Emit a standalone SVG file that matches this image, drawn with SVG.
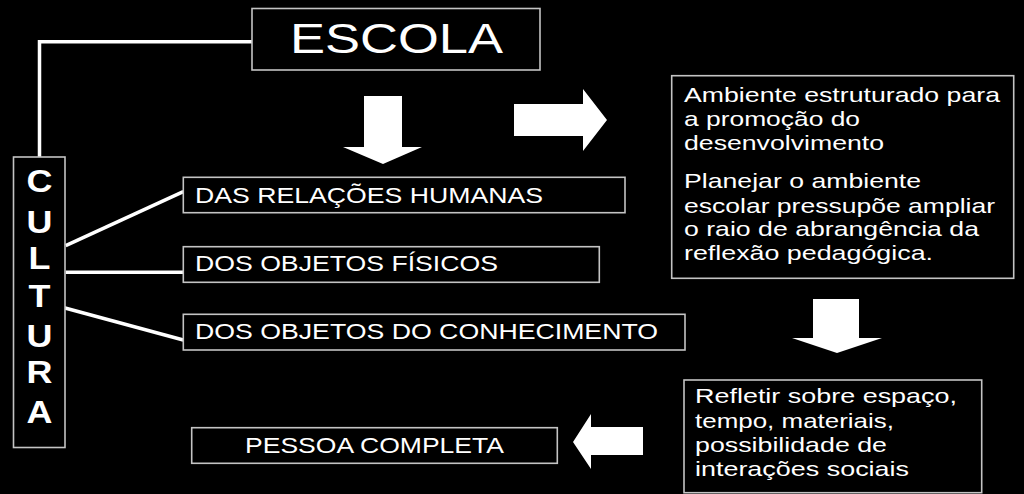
<svg xmlns="http://www.w3.org/2000/svg" width="1024" height="494" viewBox="0 0 1024 494">
<style>
.box{fill:#000;stroke:#c4c4c4;stroke-width:1.6}
.t{fill:#fff;font-family:"Liberation Sans",Arial,sans-serif}
.lbl{font-size:22px}
.par{font-size:21px}
.cult{font-size:31.5px;font-weight:bold;text-anchor:middle}
.con{stroke:#fff;stroke-width:3.5;fill:none}
.arr{fill:#fff}
</style>
<rect width="1024" height="494" fill="#000"/>
<g id="connectors">
<polyline class="con" points="260,41.7 39.5,41.7 39.5,157" stroke-width="3"/>
<line class="con" x1="65.7" y1="245.7" x2="183.3" y2="191.7"/>
<line class="con" x1="65.7" y1="272.3" x2="183.3" y2="272.3"/>
<line class="con" x1="56.7" y1="305.7" x2="183.3" y2="340"/>
<polygon class="arr" points="364,96 402,96 402,147 422,147 383,164 343,147 364,147"/>
<polygon class="arr" points="514,104 583,104 583,89 607,120 583,151 583,136 514,136"/>
<polygon class="arr" points="813,299 859,299 859,338 882,338 837,353 792,338 813,338"/>
<polygon class="arr" points="643,427 591,427 591,414 573,442 591,469 591,455 643,455"/>
</g>
<g id="escola">
<rect class="box" x="252" y="8.5" width="288" height="61.5"/>
<text class="t" x="290" y="52.7" font-size="42" textLength="213" lengthAdjust="spacingAndGlyphs">ESCOLA</text>
</g>
<g id="cultura">
<rect class="box" x="13.5" y="157" width="51.5" height="290.5"/>
<g transform="translate(39.5,0) scale(1.14,1)">
<text class="t cult" x="0" y="192.5">C</text>
<text class="t cult" x="0" y="232.7">U</text>
<text class="t cult" x="0" y="269.3">L</text>
<text class="t cult" x="0" y="307.3">T</text>
<text class="t cult" x="0" y="346.7">U</text>
<text class="t cult" x="0" y="383.3">R</text>
<text class="t cult" x="0" y="423.3">A</text>
</g>
</g>
<g id="relacoes">
<rect class="box" x="183.3" y="177.3" width="441.7" height="35.4"/>
<text class="t lbl" x="195" y="202.7" textLength="348" lengthAdjust="spacingAndGlyphs">DAS RELAÇÕES HUMANAS</text>
</g>
<g id="fisicos">
<rect class="box" x="183.3" y="246.7" width="416" height="35.6"/>
<text class="t lbl" x="195" y="271" textLength="303" lengthAdjust="spacingAndGlyphs">DOS OBJETOS FÍSICOS</text>
</g>
<g id="conhecimento">
<rect class="box" x="183.3" y="314.3" width="501.7" height="35.7"/>
<text class="t lbl" x="195" y="338.5" textLength="463" lengthAdjust="spacingAndGlyphs">DOS OBJETOS DO CONHECIMENTO</text>
</g>
<g id="pessoa">
<rect class="box" x="191.7" y="427.7" width="365.6" height="35.6"/>
<text class="t lbl" x="245" y="452.7" textLength="259" lengthAdjust="spacingAndGlyphs">PESSOA COMPLETA</text>
</g>
<g id="ambiente">
<rect class="box" x="671.7" y="75.7" width="342" height="202.6"/>
<text class="t par" x="684" y="101.7" textLength="316" lengthAdjust="spacingAndGlyphs">Ambiente estruturado para</text>
<text class="t par" x="684" y="126" textLength="176" lengthAdjust="spacingAndGlyphs">a promoção do</text>
<text class="t par" x="684" y="150" textLength="200" lengthAdjust="spacingAndGlyphs">desenvolvimento</text>
<text class="t par" x="684" y="188.3" textLength="237" lengthAdjust="spacingAndGlyphs">Planejar o ambiente</text>
<text class="t par" x="684" y="212.7" textLength="311" lengthAdjust="spacingAndGlyphs">escolar pressupõe ampliar</text>
<text class="t par" x="684" y="236" textLength="295" lengthAdjust="spacingAndGlyphs">o raio de abrangência da</text>
<text class="t par" x="684" y="260" textLength="249" lengthAdjust="spacingAndGlyphs">reflexão pedagógica.</text>
</g>
<g id="refletir">
<rect class="box" x="684" y="380" width="297.7" height="112.7"/>
<text class="t par" x="695" y="403.3" textLength="262" lengthAdjust="spacingAndGlyphs">Refletir sobre espaço,</text>
<text class="t par" x="695" y="427.5" textLength="199" lengthAdjust="spacingAndGlyphs">tempo, materiais,</text>
<text class="t par" x="695" y="452" textLength="192" lengthAdjust="spacingAndGlyphs">possibilidade de</text>
<text class="t par" x="695" y="476.3" textLength="214" lengthAdjust="spacingAndGlyphs">interações sociais</text>
</g>
</svg>
